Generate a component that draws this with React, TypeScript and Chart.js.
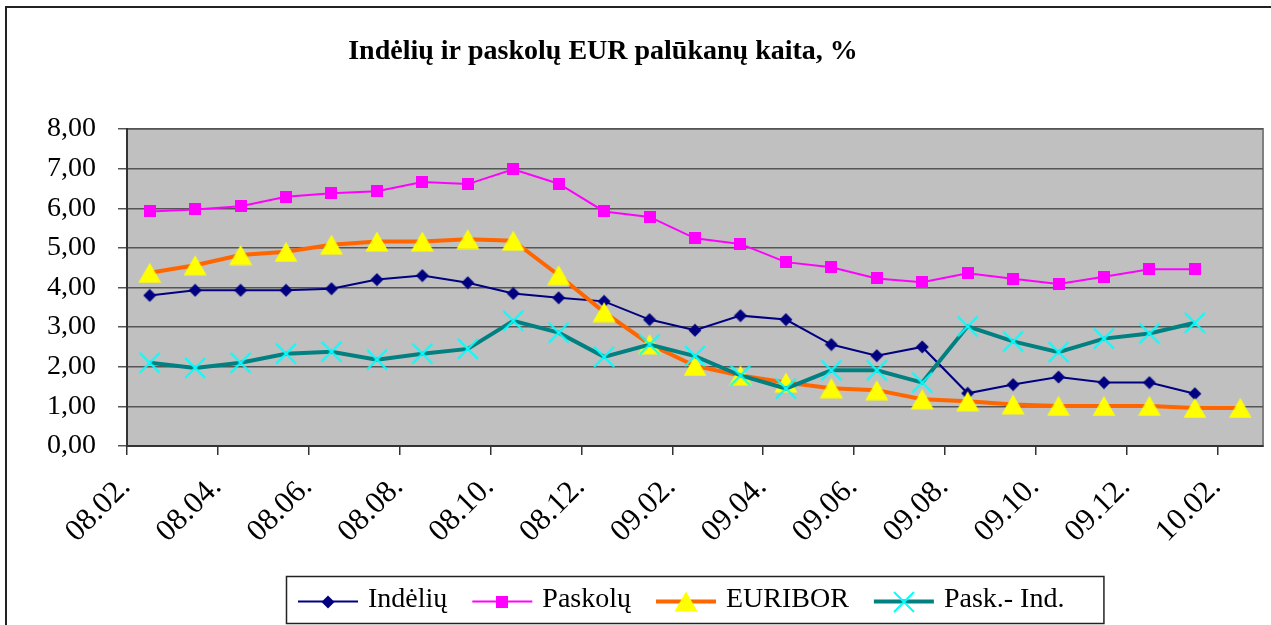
import React, { useEffect, useRef } from 'react';
import { Chart, registerables } from 'chart.js';

Chart.register(...registerables);

const TITLE = 'Indėlių ir paskolų EUR palūkanų kaita, %';

const months = [
  '08.02.', '08.03.', '08.04.', '08.05.', '08.06.', '08.07.', '08.08.', '08.09.', '08.10.', '08.11.', '08.12.',
  '09.01.', '09.02.', '09.03.', '09.04.', '09.05.', '09.06.', '09.07.', '09.08.', '09.09.', '09.10.', '09.11.', '09.12.',
  '10.01.', '10.02.',
];

const indeliu = [3.80, 3.93, 3.93, 3.93, 3.97, 4.20, 4.30, 4.12, 3.85, 3.74, 3.65, 3.19, 2.92, 3.29, 3.19, 2.56, 2.28, 2.50, 1.33, 1.55, 1.74, 1.60, 1.60, 1.32];
const paskolu = [5.92, 5.97, 6.05, 6.29, 6.38, 6.43, 6.66, 6.61, 6.98, 6.62, 5.92, 5.78, 5.24, 5.10, 4.64, 4.51, 4.23, 4.13, 4.36, 4.22, 4.09, 4.27, 4.46, 4.46];
const euribor = [4.37, 4.56, 4.82, 4.90, 5.08, 5.16, 5.16, 5.22, 5.18, 4.31, 3.38, 2.57, 2.02, 1.78, 1.60, 1.46, 1.41, 1.18, 1.13, 1.05, 1.01, 1.01, 1.01, 0.96, 0.96];
const paskInd = [2.10, 1.97, 2.10, 2.33, 2.38, 2.18, 2.33, 2.45, 3.16, 2.86, 2.25, 2.56, 2.27, 1.78, 1.45, 1.91, 1.91, 1.60, 3.02, 2.64, 2.37, 2.71, 2.84, 3.11];

const seriesLabels = ['Indėlių', 'Paskolų', 'EURIBOR', 'Pask.- Ind.'];
const yTicks = [0, 1, 2, 3, 4, 5, 6, 7, 8];

const FONT = "'Liberation Serif', 'Times New Roman', serif";

function makeCanvas(w: number, h: number, draw: (c: CanvasRenderingContext2D) => void) {
  const cv = document.createElement('canvas');
  cv.width = w;
  cv.height = h;
  const c = cv.getContext('2d')!;
  draw(c);
  return cv;
}

function markers() {
  const diamond = makeCanvas(14, 14, (c) => {
    c.fillStyle = '#000080';
    c.beginPath();
    c.moveTo(7, 0.5); c.lineTo(13.5, 7); c.lineTo(7, 13.5); c.lineTo(0.5, 7);
    c.closePath(); c.fill();
  });
  const square = makeCanvas(12, 12, (c) => {
    c.fillStyle = '#FF00FF';
    c.fillRect(0, 0, 12, 12);
  });
  const triangle = makeCanvas(24, 21, (c) => {
    c.fillStyle = '#FFFF00';
    c.beginPath();
    c.moveTo(12, 0.5); c.lineTo(23.5, 20.5); c.lineTo(0.5, 20.5);
    c.closePath(); c.fill();
  });
  const cross = makeCanvas(24, 24, (c) => {
    c.strokeStyle = '#00FFFF';
    c.lineWidth = 2;
    c.beginPath();
    c.moveTo(2, 2); c.lineTo(22, 22);
    c.moveTo(22, 2); c.lineTo(2, 22);
    c.stroke();
  });
  return [diamond, square, triangle, cross];
}

const bgPlugin = {
  id: 'bgPlugin',
  beforeDraw(chart: any) {
    const { ctx, chartArea: a, width, height } = chart;
    ctx.save();
    ctx.fillStyle = '#ffffff';
    ctx.fillRect(0, 0, width, height);
    ctx.strokeStyle = '#222222';
    ctx.lineWidth = 2;
    ctx.strokeRect(6, 7, width + 20, height + 20);
    ctx.fillStyle = '#C0C0C0';
    ctx.fillRect(a.left, a.top, a.right - a.left, a.bottom - a.top);
    ctx.strokeStyle = '#808080';
    ctx.lineWidth = 2;
    ctx.strokeRect(a.left, a.top, a.right - a.left, a.bottom - a.top);
    ctx.restore();
  },
};

const titlePlugin = {
  id: 'titlePlugin',
  afterDraw(chart: any) {
    const { ctx } = chart;
    ctx.save();
    ctx.font = `bold 28px ${FONT}`;
    ctx.fillStyle = '#000';
    ctx.textAlign = 'center';
    ctx.textBaseline = 'alphabetic';
    ctx.fillText(TITLE, 603, 59);
    ctx.restore();
  },
};

const legendPlugin = {
  id: 'boxLegend',
  afterDraw(chart: any) {
    const { ctx, chartArea: a } = chart;
    const ds = chart.data.datasets;
    ctx.save();
    ctx.font = `28px ${FONT}`;
    const lineLen = 60, gap1 = 10, gap2 = 25, padL = 12, padR = 39;
    const tws = ds.map((d: any) => ctx.measureText(d.label).width);
    let total = padL + padR + gap2 * (ds.length - 1);
    tws.forEach((w: number) => { total += lineLen + gap1 + w; });
    const cx = (a.left + a.right) / 2;
    const left = Math.round(cx - total / 2);
    const top = chart.height - 49;
    const h = 47;
    ctx.strokeStyle = '#222222';
    ctx.lineWidth = 1.5;
    ctx.strokeRect(left + 0.5, top + 0.5, total, h);
    const y = top + 25.5;
    let x = left + padL;
    ds.forEach((d: any, i: number) => {
      ctx.strokeStyle = d.borderColor;
      ctx.lineWidth = d.borderWidth;
      ctx.beginPath();
      ctx.moveTo(x, y);
      ctx.lineTo(x + lineLen, y);
      ctx.stroke();
      const img = d.pointStyle as HTMLCanvasElement;
      ctx.drawImage(img, Math.round(x + lineLen / 2 - img.width / 2), Math.round(y - img.height / 2));
      ctx.fillStyle = '#000';
      ctx.textAlign = 'left';
      ctx.textBaseline = 'alphabetic';
      ctx.fillText(d.label, x + lineLen + gap1, top + 31);
      x += lineLen + gap1 + tws[i] + gap2;
    });
    ctx.restore();
  },
};

export default function App() {
  const ref = useRef<HTMLCanvasElement>(null);
  useEffect(() => {
    const prev = document.body.style.margin;
    document.body.style.margin = '0';
    const [diamond, square, triangle, cross] = markers();
    const chart = new Chart(ref.current!, {
      type: 'line',
      data: {
        labels: months,
        datasets: [
          { label: seriesLabels[0], data: indeliu, borderColor: '#000080', backgroundColor: '#000080', borderWidth: 2, pointStyle: diamond as any, order: 3 },
          { label: seriesLabels[1], data: paskolu, borderColor: '#FF00FF', backgroundColor: '#FF00FF', borderWidth: 2, pointStyle: square as any, order: 2 },
          { label: seriesLabels[2], data: euribor, borderColor: '#FF6600', backgroundColor: '#FFFF00', borderWidth: 4, pointStyle: triangle as any, order: 1 },
          { label: seriesLabels[3], data: paskInd, borderColor: '#008080', backgroundColor: '#00FFFF', borderWidth: 4, pointStyle: cross as any, order: 0 },
        ],
      },
      options: {
        responsive: false,
        animation: false,
        events: [],
        layout: { padding: { top: 129, right: 8, left: 0, bottom: 0 } },
        elements: { line: { tension: 0 } },
        plugins: {
          legend: { display: false },
          title: { display: false },
          tooltip: { enabled: false },
        },
        scales: {
          x: {
            type: 'category',
            offset: true,
            grid: {
              offset: true,
              drawOnChartArea: false,
              drawTicks: true,
              tickLength: 9,
              lineWidth: 1.5,
              color: (c: any) => (c.index % 2 === 0 ? '#333333' : 'rgba(0,0,0,0)'),
            },
            border: { color: '#333333', width: 2 },
            ticks: {
              autoSkip: false,
              maxRotation: 45,
              minRotation: 45,
              padding: 14,
              labelOffset: -24,
              color: '#000',
              font: { family: FONT, size: 31 },
              callback: (_v: any, i: number) => (i % 2 === 0 ? months[i] : ''),
            },
            afterFit: (s: any) => { s.height = 179; s.paddingRight = 0; s.paddingLeft = 0; },
          },
          y: {
            min: 0,
            max: 8,
            afterBuildTicks: (s: any) => { s.ticks = yTicks.map((v) => ({ value: v })); },
            ticks: {
              padding: 22,
              color: '#000',
              font: { family: FONT, size: 28 },
              callback: (v: any) => Number(v).toFixed(2).replace('.', ','),
            },
            grid: { color: '#555555', lineWidth: 1.5, tickLength: 9 },
            border: { color: '#333333', width: 2 },
            afterFit: (s: any) => { s.width = 127; s.paddingTop = 0; s.paddingBottom = 0; },
          },
        },
      },
      plugins: [bgPlugin, titlePlugin, legendPlugin],
    });
    return () => {
      chart.destroy();
      document.body.style.margin = prev;
    };
  }, []);
  return (
    <div style={{ width: 1271, height: 625, overflow: 'hidden', position: 'relative', background: '#fff' }}>
      <canvas ref={ref} width={1271} height={625} style={{ display: 'block' }} />
    </div>
  );
}
